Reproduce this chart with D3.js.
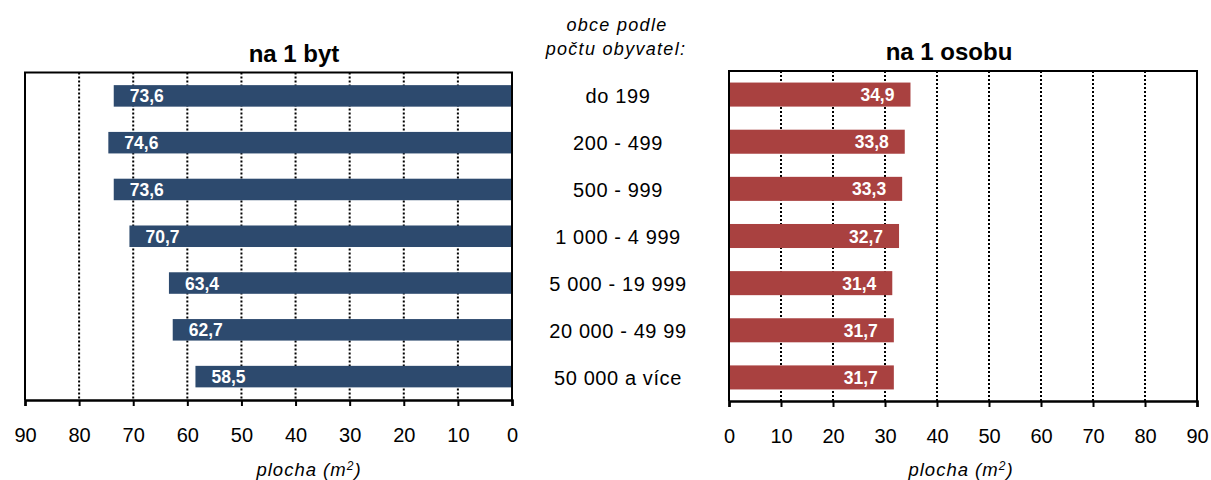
<!DOCTYPE html>
<html>
<head>
<meta charset="utf-8">
<script src="https://cdn.jsdelivr.net/npm/d3@7"></script>
<style>
  body { margin: 0; background: #fff; }
  text { font-family: "Liberation Sans", Arial, sans-serif; fill: #000; }
</style>
</head>
<body>
<script>
// velikost obcí (pocet obyvatel)
var categories = ["do 199", "200 - 499", "500 - 999", "1 000 - 4 999",
                  "5 000 - 19 999", "20 000 - 49 99", "50 000 a více"];
// obytna plocha na 1 byt (m2)
var perFlat = [73.6, 74.6, 73.6, 70.7, 63.4, 62.7, 58.5];
// obytna plocha na 1 osobu (m2)
var perPerson = [34.9, 33.8, 33.3, 32.7, 31.4, 31.7, 31.7];
var tickValues = [0, 10, 20, 30, 40, 50, 60, 70, 80, 90];

var width = 1211, height = 480;

var svg = d3.select("body").append("svg")
    .attr("width", width)
    .attr("height", height);

var fmt = function (v) { return d3.format(".1f")(v).replace(".", ","); };

function drawPanel(p) {
    var x = d3.scaleLinear().domain(p.domain).range(p.xRange);
    var y = d3.scaleBand().domain(categories).range([p.top, p.bottom]).paddingInner(p.pad).paddingOuter(p.pad / 2);
    var left = p.xRange[0], right = p.xRange[1];

    var g = svg.append("g");

    // tečkovaná mřížka
    g.selectAll("line.grid")
      .data(tickValues.filter(function (d) { return d > 0 && d < 90; }))
      .enter().append("line")
        .attr("class", "grid")
        .attr("x1", function (d) { return x(d); })
        .attr("x2", function (d) { return x(d); })
        .attr("y1", p.top)
        .attr("y2", p.bottom)
        .attr("stroke", "#000")
        .attr("stroke-width", 2)
        .attr("stroke-dasharray", "2,2");

    g.selectAll("rect.bar")
      .data(p.values)
      .enter().append("rect")
        .attr("class", "bar")
        .attr("x", function (d) { return Math.min(x(0), x(d)); })
        .attr("width", function (d) { return Math.abs(x(d) - x(0)); })
        .attr("y", function (d, i) { return y(categories[i]); })
        .attr("height", y.bandwidth())
        .attr("fill", p.color);

    g.selectAll("text.val")
      .data(p.values)
      .enter().append("text")
        .attr("class", "val")
        .attr("x", function (d) { return x(d) + p.labelOffset; })
        .attr("y", function (d, i) { return y(categories[i]) + y.bandwidth() / 2 + 6.5; })
        .attr("text-anchor", p.anchor)
        .style("font-size", "17.5px")
        .style("font-weight", "bold")
        .style("fill", "#fff")
        .text(fmt);

    // rámeček
    g.append("path")
        .attr("d", "M" + left + "," + p.bottom + "V" + p.top + "H" + right + "V" + p.bottom)
        .attr("fill", "none")
        .attr("stroke", "#000")
        .attr("stroke-width", 2);

    // osa x
    var axis = d3.axisBottom(x).tickValues(tickValues).tickSize(6).tickPadding(22);
    var ax = g.append("g")
        .attr("transform", "translate(0," + p.bottom + ")")
        .call(axis);
    ax.select(".domain").attr("stroke", "#000").attr("stroke-width", 2.5);
    ax.selectAll(".tick line").attr("stroke", "#000").attr("stroke-width", 2);
    ax.selectAll(".tick text")
        .style("font-size", "20px")
        .style("font-family", "'Liberation Sans', Arial, sans-serif")
        .attr("fill", "#000");

    g.append("text")
        .attr("x", p.titleX)
        .attr("y", p.titleY)
        .attr("text-anchor", "middle")
        .style("font-size", "24px")
        .style("font-weight", "bold")
        .text(p.title);

    var at = g.append("text")
        .attr("x", p.axisTitleX)
        .attr("y", 476)
        .attr("text-anchor", "middle")
        .style("font-size", "18.5px")
        .style("font-style", "italic")
        .style("letter-spacing", "1px");
    at.append("tspan").text("plocha (m");
    at.append("tspan").attr("dy", -6).style("font-size", "12px").text("2");
    at.append("tspan").attr("dy", 6).text(")");
}

drawPanel({
    values: perFlat, domain: [90, 0], xRange: [25, 512],
    top: 72.5, bottom: 400, pad: 0.54, color: "#2D4A6E",
    labelOffset: 16, anchor: "start",
    title: "na 1 byt", titleX: 294, titleY: 62, axisTitleX: 309
});

drawPanel({
    values: perPerson, domain: [0, 90], xRange: [729, 1197],
    top: 71, bottom: 401, pad: 0.49, color: "#A94140",
    labelOffset: -16, anchor: "end",
    title: "na 1 osobu", titleX: 949, titleY: 60, axisTitleX: 961
});

// popisky kategorií uprostřed
var yMid = d3.scaleBand().domain(categories).range([71.5, 400.5]);
svg.selectAll("text.cat")
  .data(categories)
  .enter().append("text")
    .attr("class", "cat")
    .attr("x", 618)
    .attr("y", function (d) { return yMid(d) + yMid.bandwidth() / 2 + 7.5; })
    .attr("text-anchor", "middle")
    .style("font-size", "20px")
    .style("letter-spacing", "0.6px")
    .text(function (d) { return d; });

var head = svg.append("text")
    .attr("text-anchor", "middle")
    .style("font-size", "18px")
    .style("font-style", "italic")
    .style("letter-spacing", "1.3px");
head.append("tspan").attr("x", 617).attr("y", 31).text("obce podle");
head.append("tspan").attr("x", 616).attr("y", 55).text("počtu obyvatel:");
</script>
</body>
</html>
